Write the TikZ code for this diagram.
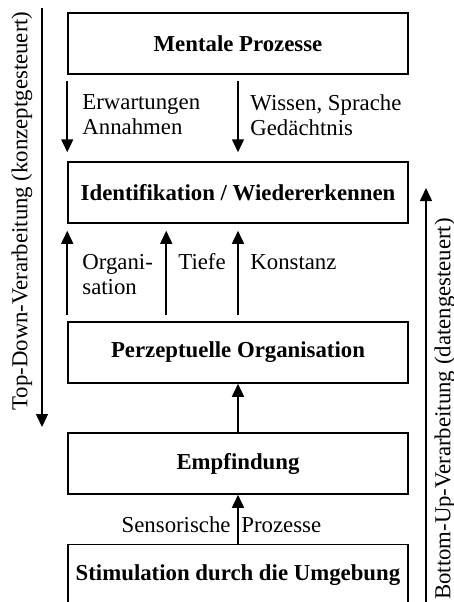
\documentclass[tikz,border=0pt]{standalone}
\usepackage{fontspec}
\setmainfont{Liberation Serif}
\usetikzlibrary{arrows.meta}
\tikzset{
  box/.style={draw, line width=0.75pt, minimum width=170pt, minimum height=30.5pt, inner sep=0pt,
    font=\fontsize{11.4}{12.5}\selectfont\bfseries},
  lbl/.style={inner sep=0pt, align=left, font=\fontsize{11.4}{12.5}\selectfont},
  arr/.style={line width=0.75pt, -{Triangle[length=6.5pt,width=6pt]}},
  side/.style={inner sep=0pt, rotate=90, font=\fontsize{11.4}{12.5}\selectfont}
}
\begin{document}
\begin{tikzpicture}[x=0.5pt,y=-0.5pt]
\useasboundingbox (0,0) rectangle (454,602);
\clip (0,0) rectangle (454,602);
\node[box] (b1) at (238,43.5) {Mentale Prozesse};
\node[box] (b2) at (238,192.5) {Identifikation / Wiedererkennen};
\node[box] (b3) at (238,352.5) {Perzeptuelle Organisation};
\node[box] (b4) at (238,463.5) {Empfindung};
\node[box] (b5) at (238,575) {Stimulation durch die Umgebung};
% top-down arrows
\draw[arr] ([yshift=-3pt]b1.south west) -- ([yshift=4.5pt]b2.north west);
\draw[arr] ([yshift=-3pt]b1.south) -- ([yshift=4.5pt]b2.north);
\node[lbl, anchor=west] (l1) at (82,115) {Erwartungen\\Annahmen};
\node[lbl, anchor=west] (l2) at (250,115) {Wissen, Sprache\\Gedächtnis};
% bottom-up arrows
\draw[arr] ([yshift=3pt]b3.north west) -- ([yshift=-3.5pt]b2.south west);
\draw[arr] ([xshift=49.5pt,yshift=3pt]b3.north west) -- ([xshift=49.5pt,yshift=-3.5pt]b2.south west);
\draw[arr] ([yshift=3pt]b3.north) -- ([yshift=-3.5pt]b2.south);
\node[lbl, anchor=west] (l3) at (82,275) {Organi-\\sation};
\node[lbl, anchor=west] (l4) at (178,262) {Tiefe};
\node[lbl, anchor=west] (l5) at (250,262) {Konstanz};
\draw[arr] (b4.north) -- (b3.south);
\draw[arr] (b5.north) -- (b4.south);
\node[lbl, anchor=east] (l6) at (231,525) {Sensorische};
\node[lbl, anchor=west] (l7) at (241,525) {Prozesse};
% side arrows
\coordinate (tdS) at (42,8);
\coordinate (tdE) at (42,427);
\draw[arr] (tdS) -- (tdE);
\node[side] (tdL) at (22,211) {Top-Down-Verarbeitung (konzeptgesteuert)};
\coordinate (buS) at (426,612);
\coordinate (buE) at (426,188);
\draw[arr] (buS) -- (buE);
\node[side] (buL) at (445,409) {Bottom-Up-Verarbeitung (datengesteuert)};
\end{tikzpicture}
\end{document}
